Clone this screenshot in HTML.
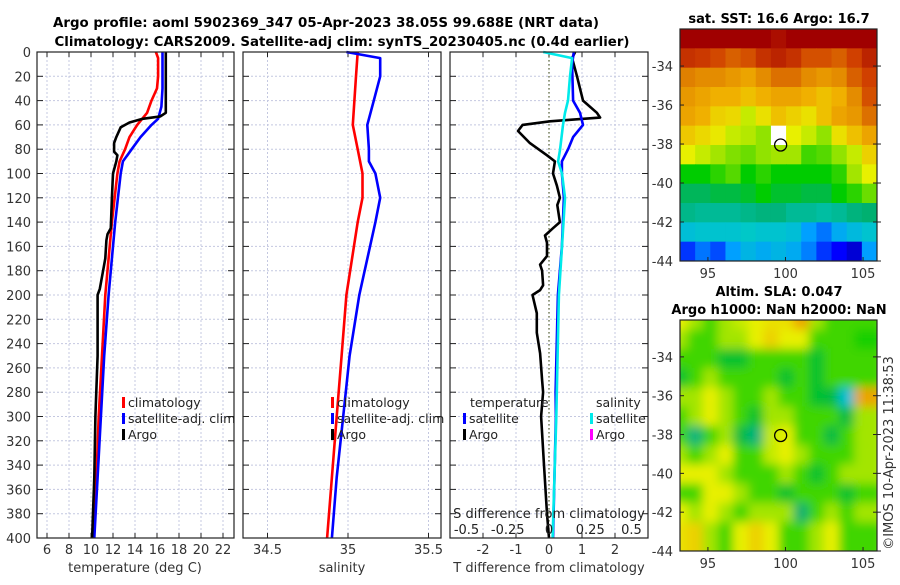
<!DOCTYPE html>
<html><head><meta charset="utf-8"><style>
html,body{margin:0;padding:0;background:#fff;}
svg text{font-family:"DejaVu Sans","Liberation Sans",sans-serif;}
</style></head><body>
<svg id="c" width="900" height="580" xmlns="http://www.w3.org/2000/svg"></svg>
<script>
// ---------- data ----------
const tempClimDepth=[0,5,20,30,40,50,60,70,80,90,100,140,200,250,300,350,400];
const tempClimVal=[15.9,16.1,16.1,16.0,15.5,15.1,14.2,13.5,13.1,12.6,12.4,11.9,11.3,11.0,10.7,10.5,10.2];
const tempSatDepth=[0,30,45,55,60,70,80,90,100,140,200,250,300,350,400];
const tempSatVal=[16.5,16.5,16.4,16.1,15.5,14.5,13.7,12.9,12.7,12.2,11.6,11.2,10.9,10.6,10.3];
const tempArgoDepth=[0,50,53,55,58,62,70,75,82,85,90,100,120,145,150,155,170,180,195,200,220,250,300,350,400];
const tempArgoVal=[16.8,16.8,16.3,14.7,13.5,12.7,12.3,12.1,12.1,12.4,12.3,12.0,11.9,11.8,11.5,11.4,11.3,11.1,10.8,10.6,10.6,10.6,10.4,10.3,10.1];
const salClimDepth=[0,20,40,60,80,100,120,140,200,250,300,350,400];
const salClimVal=[35.06,35.05,35.04,35.03,35.06,35.09,35.09,35.06,34.99,34.96,34.93,34.90,34.87];
const salSatDepth=[0,5,20,40,60,80,90,100,120,140,200,250,300,350,400];
const salSatVal=[34.99,35.2,35.2,35.16,35.12,35.13,35.13,35.17,35.2,35.17,35.07,35.01,34.97,34.93,34.9];
const dTArgoDepth=[0,5,20,40,50,54,57,60,65,75,85,90,100,110,120,126,140,145,151,157,168,175,180,192,196,200,215,231,248,270,280,300,340,380,400];
const dTArgoVal=[0.79,0.7,0.85,1.03,1.45,1.55,0.03,-0.8,-0.94,-0.58,-0.06,0.18,0.12,0.24,0.33,0.25,0.33,0.12,-0.12,-0.06,-0.06,-0.27,-0.21,-0.18,-0.27,-0.5,-0.37,-0.37,-0.27,-0.21,-0.18,-0.24,-0.15,-0.06,0];
const dTSatDepth=[0,10,40,50,60,70,80,90,100,120,160,200,280,300,400];
const dTSatVal=[0.75,0.7,0.73,0.94,1.03,0.73,0.58,0.39,0.39,0.45,0.39,0.27,0.2,0.21,0.12];
const dSSatDepth=[0,5,20,40,50,60,80,90,100,120,160,200,300,400];
const dSSatVal=[-0.035,0.14,0.127,0.115,0.097,0.085,0.067,0.055,0.079,0.097,0.079,0.06,0.044,0.022];
const depthTicks=[0,20,40,60,80,100,120,140,160,180,200,220,240,260,280,300,320,340,360,380,400];
const tempTicks=[6,8,10,12,14,16,18,20,22];
const salTicks=[34.5,35,35.5];
const dTTicks=[-2,-1,0,1,2];
const dSTicks=[-0.5,-0.25,0,0.25,0.5];
const dSTickLabels=["-0.5","-0.25","0","0.25","0.5"];
const latTicks=[-34,-36,-38,-40,-42,-44];
const lonTicks=[95,100,105];
const sstGrid=[
[.95,.95,.95,.95,.95,.95,.93,.95,.95,.95,.95,.95,.95],
[.88,.87,.85,.82,.84,.88,.9,.88,.84,.84,.82,.86,.9],
[.78,.76,.76,.74,.72,.76,.8,.8,.76,.74,.76,.82,.86],
[.74,.72,.7,.7,.68,.7,.72,.72,.7,.68,.7,.76,.84],
[.72,.7,.66,.65,.6,.64,.68,.66,.64,.68,.72,.74,.8],
[.67,.65,.63,.6,.59,.57,null,.62,.6,.57,.64,.68,.72],
[.62,.6,.58,.56,.55,.57,.58,.58,.53,.54,.57,.6,.66],
[.5,.5,.52,.54,.5,.52,.5,.5,.5,.5,.52,.58,.62],
[.46,.46,.47,.47,.48,.5,.48,.48,.47,.47,.5,.52,.55],
[.43,.42,.42,.42,.43,.44,.44,.42,.42,.41,.42,.44,.45],
[.36,.37,.37,.37,.38,.37,.37,.36,.3,.26,.32,.35,.37],
[.2,.26,.22,.3,.34,.32,.34,.32,.27,.2,.15,.1,.3]];
const slaGrid=[
[.62,.58,.53,.58,.6,.62,.64,.64,.72,.58,.53,.53,.53],
[.58,.53,.53,.58,.58,.62,.66,.62,.62,.53,.53,.53,.51],
[.53,.53,.53,.48,.48,.53,.53,.53,.53,.48,.53,.53,.53],
[.48,.53,.58,.53,.53,.53,.53,.48,.53,.48,.53,.53,.53],
[.58,.58,.62,.58,.53,.53,.58,.53,.53,.48,.47,.36,.72],
[.53,.58,.62,.58,.53,.48,.58,.58,.53,.53,.53,.47,.58],
[.53,.44,.53,.58,.47,.44,.6,.62,.53,.53,.47,.53,.58],
[.58,.53,.58,.62,.53,.53,.6,.62,.58,.53,.53,.53,.58],
[.62,.62,.62,.58,.53,.53,.53,.58,.53,.48,.53,.58,.58],
[.53,.53,.62,.62,.58,.53,.53,.48,.53,.53,.53,.48,.53],
[.62,.58,.62,.58,.53,.58,.58,.58,.45,.53,.58,.53,.58],
[.64,.66,.58,.53,.62,.66,.62,.53,.53,.58,.62,.53,.53]];
const argoLon=[99.688];
const argoLat=[-38.05];

// ---------- helpers ----------
const NS="http://www.w3.org/2000/svg";
const svg=document.getElementById('c');
function mk(tag,attrs,parent){const e=document.createElementNS(NS,tag);for(const k in attrs)e.setAttribute(k,attrs[k]);(parent||svg).appendChild(e);return e;}
function txt(s,x,y,opt,parent){const e=mk('text',Object.assign({x:x,y:y,'font-size':13,fill:'#333'},opt||{}),parent);e.textContent=s;return e;}
const Y0=52,Y1=538;
const yD=d=>Y0+(d/400)*(Y1-Y0);
const P1={x0:37,x1:234},P2={x0:243,x1:441},P3={x0:450,x1:648};
const xT=t=>47+(t-6)*11;
const xS=s=>348+(s-35)*161;
const xDT=v=>549+v*33;
const xDS=v=>549+v*165;

function panel(P,name,xticks,xf,xlabels){
  const g=mk('g',{});
  
  
  mk('rect',{x:P.x0,y:Y0,width:P.x1-P.x0,height:Y1-Y0,fill:'#fff'},g);
  depthTicks.forEach(d=>{const y=yD(d);
    mk('line',{x1:P.x0,x2:P.x1,y1:y,y2:y,stroke:'#c4c8e0','stroke-width':1,'stroke-dasharray':'2,2'},g);
    mk('line',{x1:P.x0,x2:P.x0+6,y1:y,y2:y,stroke:'#222'},g);
    mk('line',{x1:P.x1-6,x2:P.x1,y1:y,y2:y,stroke:'#222'},g);});
  xticks.forEach((t,i)=>{const x=xf(t);
    mk('line',{x1:x,x2:x,y1:Y0,y2:Y1,stroke:'#c4c8e0','stroke-width':1,'stroke-dasharray':'2,2'},g);
    mk('line',{x1:x,x2:x,y1:Y0,y2:Y0+5,stroke:'#222'},g);
    mk('line',{x1:x,x2:x,y1:Y1-5,y2:Y1,stroke:'#222'},g);
    const l=txt(xlabels?xlabels[i]:String(t),x,554,{'text-anchor':'middle'},g);
    
    });
  return g;
}
function line(depths,vals,xf,color,name,w){
  const pts=depths.map((d,i)=>xf(vals[i]).toFixed(1)+','+yD(d).toFixed(1)).join(' ');
  const p=mk('polyline',{points:pts,fill:'none',stroke:color,'stroke-width':w||2.6,'stroke-linejoin':'round'});
  
  
}
function border(P){mk('rect',{x:P.x0,y:Y0,width:P.x1-P.x0,height:Y1-Y0,fill:'none',stroke:'#222','stroke-width':1.2});}
function legItem(x,y,color,label,name){
  mk('rect',{x:x,y:y-10,width:3,height:11,fill:color});
  const t=txt(label,x+6,y,{fill:'#222','font-size':12.5});
  
  
}

// titles
let t1=txt('Argo profile: aoml 5902369_347 05-Apr-2023 38.05S 99.688E (NRT data)',326,27,{'text-anchor':'middle','font-weight':'bold',fill:'#000','font-size':13,textLength:546,lengthAdjust:'spacingAndGlyphs'});


let t2=txt('Climatology: CARS2009. Satellite-adj clim: synTS_20230405.nc (0.4d earlier)',342,46,{'text-anchor':'middle','font-weight':'bold',fill:'#000','font-size':13,textLength:575,lengthAdjust:'spacingAndGlyphs'});



// y labels
depthTicks.forEach(d=>{const l=txt(String(d),31,yD(d)+5,{'text-anchor':'end'});
  
  });

// panel 1
panel(P1,'temperature-panel',tempTicks,xT);
line(tempClimDepth,tempClimVal,xT,'#f00','temp-climatology-line');
line(tempSatDepth,tempSatVal,xT,'#00f','temp-satellite-line');
line(tempArgoDepth,tempArgoVal,xT,'#000','temp-argo-line');
border(P1);
let xl=txt('temperature (deg C)',135,572,{'text-anchor':'middle'});


legItem(122,407,'#f00','climatology','legend-climatology');
legItem(122,423,'#00f','satellite-adj. clim','legend-satellite');
legItem(122,439,'#000','Argo','legend-argo');

// panel 2
panel(P2,'salinity-panel',salTicks,xS);
line(salClimDepth,salClimVal,xS,'#f00','sal-climatology-line');
line(salSatDepth,salSatVal,xS,'#00f','sal-satellite-line');
border(P2);
xl=txt('salinity',342,572,{'text-anchor':'middle'});


legItem(331,407,'#f00','climatology','legend-climatology-2');
legItem(331,423,'#00f','satellite-adj. clim','legend-satellite-2');
legItem(331,439,'#000','Argo','legend-argo-2');

// panel 3
panel(P3,'difference-panel',dTTicks,xDT);
mk('line',{x1:xDT(0),x2:xDT(0),y1:Y0,y2:Y1,stroke:'#556030','stroke-width':1.2,'stroke-dasharray':'1.5,2.5'});
line(dTArgoDepth,dTArgoVal,xDT,'#000','dT-argo-line');
line(dTSatDepth,dTSatVal,xDT,'#00f','dT-satellite-line');
line(dSSatDepth,dSSatVal,xDS,'#00eaea','dS-satellite-line');
border(P3);
xl=txt('T difference from climatology',549,572,{'text-anchor':'middle'});


xl=txt('S difference from climatology',549,518,{'text-anchor':'middle',fill:'#222'});


dSTicks.forEach((v,i)=>{const l=txt(dSTickLabels[i],xDS(v),534,{'text-anchor':'middle',fill:'#222'});
  
  });
xl=txt('temperature',470,407,{fill:'#222','font-size':12.5});


legItem(463,423,'#00f','satellite','legend-t-satellite');
legItem(463,439,'#000','Argo','legend-t-argo');
xl=txt('salinity',596,407,{fill:'#222','font-size':12.5});


legItem(590,423,'#00eaea','satellite','legend-s-satellite');
legItem(590,439,'#f0f','Argo','legend-s-argo');

// ---------- maps ----------
const stops=[[0,[0,0,130]],[.15,[0,0,255]],[.3,[0,160,255]],[.38,[0,200,200]],[.45,[0,176,112]],[.5,[0,204,0]],[.56,[128,224,0]],[.62,[232,240,0]],[.7,[240,176,0]],[.78,[224,128,0]],[.86,[208,64,0]],[.95,[160,0,0]],[1,[140,0,0]]];
function cmap(v){for(let i=1;i<stops.length;i++){if(v<=stops[i][0]){const a=stops[i-1],b=stops[i];const f=(v-a[0])/(b[0]-a[0]);return 'rgb('+a[1].map((c,k)=>Math.round(c+(b[1][k]-c)*f)).join(',')+')';}}return 'rgb(140,0,0)';}
const MX0=680,MX1=877,LON0=93.2,LON1=105.9,LAT0=-32.1,LAT1=-44;
function drawMap(grid,top,bot,name,blur){
  const g=mk('g',{});
  
  
  const cid='clip'+name;
  const cp=mk('clipPath',{id:cid},g);mk('rect',{x:MX0,y:top,width:MX1-MX0,height:bot-top},cp);
  const inner=mk('g',{'clip-path':'url(#'+cid+')'},g);
  const inner2=mk('g',blur?{filter:'url(#bl)'}:{},inner);
  const lonX=lo=>MX0+(lo-LON0)/(LON1-LON0)*(MX1-MX0);
  const latY=la=>top+(la-LAT0)/(LAT1-LAT0)*(bot-top);
  const nr=grid.length,nc=grid[0].length;
  const cw=(MX1-MX0)/nc,ch=(bot-top)/nr;
  grid.forEach((row,r)=>row.forEach((v,c)=>{
    const cell=mk('rect',{x:MX0+c*cw-(blur?cw*0.5:0),y:top+r*ch-(blur?ch*0.5:0),width:cw+(blur?cw:0.6),height:ch+(blur?ch:0.6),fill:v===null?'#fff':cmap(v)},inner2);
    
    
  }));
  mk('rect',{x:MX0,y:top,width:MX1-MX0,height:bot-top,fill:'none',stroke:'#222','stroke-width':1.2},g);
  latTicks.forEach(la=>{const y=latY(la);
    mk('line',{x1:MX0,x2:MX0+4,y1:y,y2:y,stroke:'#222'},g);
    mk('line',{x1:MX1-4,x2:MX1+4,y1:y,y2:y,stroke:'#222'},g);
    const l=txt(String(la),673,y+5,{'text-anchor':'end'},g);
    
    });
  lonTicks.forEach(lo=>{const x=lonX(lo);
    mk('line',{x1:x,x2:x,y1:bot,y2:bot-4,stroke:'#222'},g);
    const l=txt(String(lo),x,bot+17,{'text-anchor':'middle'},g);
    
    });
  const m=mk('ellipse',{cx:lonX(argoLon[0]),cy:latY(argoLat[0]),rx:6,ry:6,fill:'none',stroke:'#000','stroke-width':1.3},g);
  
  
}
const defs=mk('defs',{});
const f=mk('filter',{id:'bl',x:'-10%',y:'-10%',width:'120%',height:'120%'},defs);
mk('feGaussianBlur',{stdDeviation:5},f);
drawMap(sstGrid,29,261,'sst-map',false);
drawMap(slaGrid,320,551,'sla-map',true);
xl=txt('sat. SST: 16.6 Argo: 16.7',779,23,{'text-anchor':'middle','font-weight':'bold',fill:'#000'});


xl=txt('Altim. SLA: 0.047',779,296,{'text-anchor':'middle','font-weight':'bold',fill:'#000'});


xl=txt('Argo h1000: NaN h2000: NaN',779,314,{'text-anchor':'middle','font-weight':'bold',fill:'#000'});


xl=txt('©IMOS 10-Apr-2023 11:38:53',0,0,{'text-anchor':'middle',transform:'translate(893,453) rotate(-90)'});


</script>
</body></html>
